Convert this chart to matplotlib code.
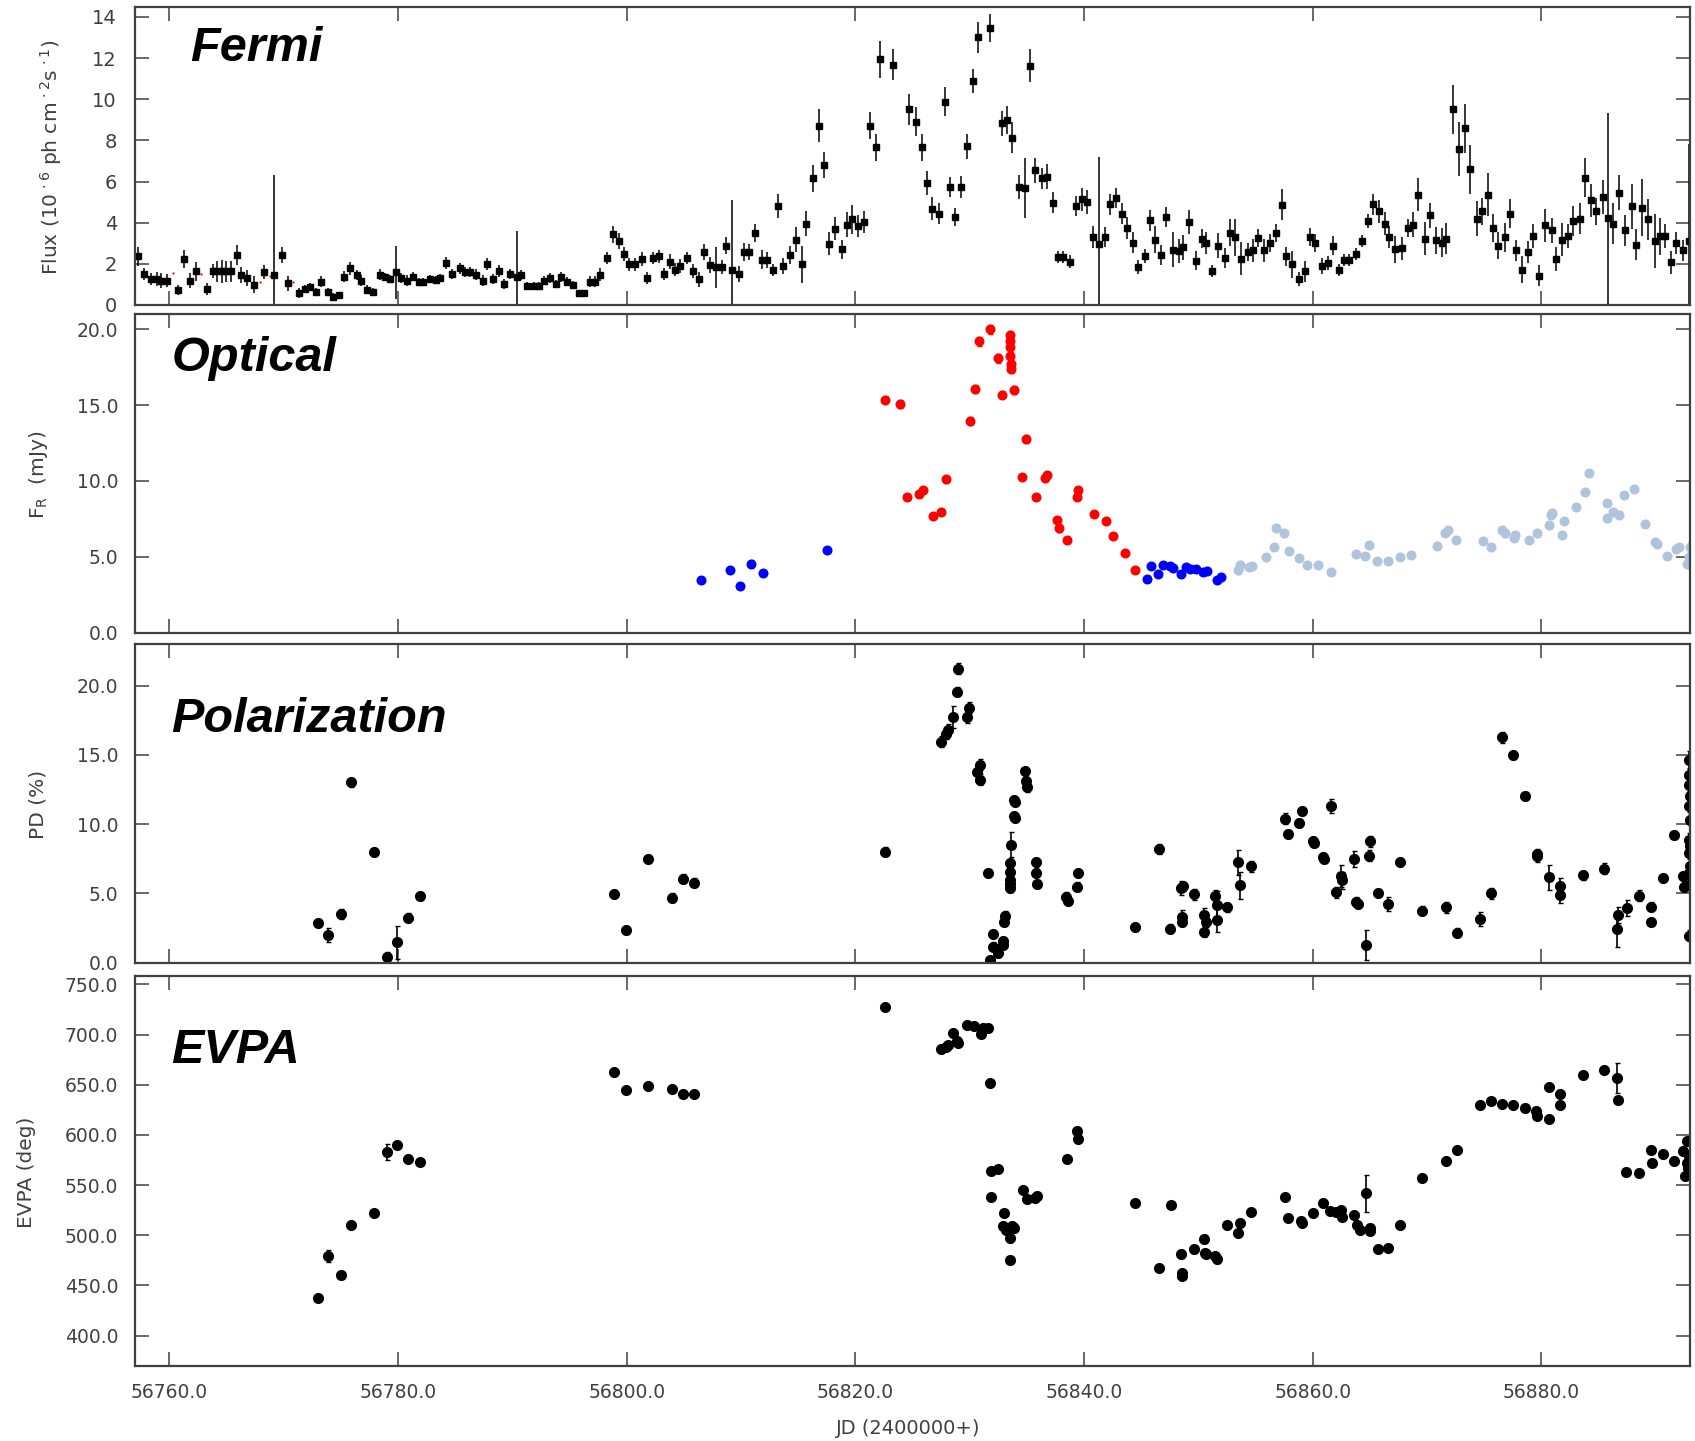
import matplotlib
matplotlib.use("Agg")
import matplotlib.pyplot as plt
from matplotlib.ticker import FormatStrFormatter, MultipleLocator

# ---- Fermi gamma-ray light curve ----
fermi_jd = [56757.3, 56757.8, 56758.4, 56758.9, 56759.3, 56759.8, 56760.8, 56761.3, 56761.8, 56762.3,
            56763.3, 56763.8, 56764.2, 56764.6, 56765.0, 56765.4, 56765.9, 56766.3, 56766.8, 56767.4,
            56768.3, 56769.2, 56769.9, 56770.4, 56771.3, 56771.9, 56772.3, 56772.8, 56773.3, 56773.9,
            56774.3, 56774.8, 56775.3, 56775.8, 56776.4, 56776.8, 56777.3, 56777.8, 56778.4, 56778.9,
            56779.3, 56779.8, 56780.3, 56780.8, 56781.3, 56781.8, 56782.2, 56782.8, 56783.3, 56783.7,
            56784.2, 56784.7, 56785.4, 56785.9, 56786.3, 56786.8, 56787.4, 56787.8, 56788.3, 56788.8,
            56789.3, 56789.8, 56790.4, 56790.8, 56791.3, 56791.9, 56792.3, 56792.8, 56793.3, 56793.8,
            56794.3, 56794.8, 56795.3, 56795.8, 56796.3, 56796.8, 56797.2,
            56797.7, 56798.3, 56798.8, 56799.3, 56799.8, 56800.2, 56800.7, 56801.3, 56801.8, 56802.3,
            56802.8, 56803.3, 56803.8, 56804.2, 56804.7, 56805.3, 56805.8, 56806.3, 56806.8, 56807.3,
            56807.8, 56808.3, 56808.7, 56809.2, 56809.8, 56810.3, 56810.7, 56811.2, 56811.8, 56812.3,
            56812.8, 56813.2, 56813.7, 56814.3, 56814.8, 56815.3, 56815.7, 56816.3, 56816.8, 56817.3,
            56817.7, 56818.2, 56818.8, 56819.3, 56819.7, 56820.2, 56820.8, 56821.3, 56821.8, 56822.2,
            56823.3, 56824.7, 56825.3, 56825.8, 56826.3, 56826.7, 56827.3, 56827.8, 56828.3, 56828.7,
            56829.2, 56829.8, 56830.3, 56830.7, 56831.8, 56832.8, 56833.3, 56833.7, 56834.3, 56834.8,
            56835.3, 56835.7, 56836.3, 56836.8, 56837.3, 56837.7, 56838.2, 56838.8, 56839.3, 56839.8,
            56840.3, 56840.8, 56841.3, 56841.8, 56842.3, 56842.8, 56843.3, 56843.8, 56844.3, 56844.7,
            56845.3, 56845.8,
            56846.2, 56846.7, 56847.2, 56847.8, 56848.3, 56848.7, 56849.2, 56849.8, 56850.3, 56850.7,
            56851.2, 56851.7, 56852.3, 56852.8, 56853.2, 56853.7, 56854.3, 56854.8, 56855.2, 56855.7,
            56856.3, 56856.8, 56857.3, 56857.7, 56858.2, 56858.8, 56859.3, 56859.8, 56860.2, 56860.8,
            56861.3, 56861.8, 56862.3, 56862.7, 56863.2, 56863.8, 56864.3, 56864.8, 56865.3, 56865.8,
            56866.3, 56866.7, 56867.2, 56867.8, 56868.3, 56868.8, 56869.2, 56869.8, 56870.3, 56870.8,
            56871.3, 56871.7, 56872.3, 56872.8, 56873.3, 56873.8, 56874.4, 56874.8, 56875.3, 56875.8,
            56876.2, 56876.8, 56877.3, 56877.8, 56878.3, 56878.8, 56879.3, 56879.8, 56880.3, 56880.9,
            56881.3, 56881.8, 56882.3, 56882.8, 56883.4, 56883.8, 56884.3, 56884.8, 56885.4, 56885.8,
            56886.3, 56886.8, 56887.3, 56887.9, 56888.3, 56888.8, 56889.3, 56889.9, 56890.4, 56890.8,
            56891.3, 56891.8, 56892.4, 56892.9]
fermi_flux = [2.37, 1.51, 1.27, 1.27, 1.19, 1.19, 0.73, 2.24, 1.19, 1.64,
              0.78, 1.64, 1.64, 1.64, 1.64, 1.64, 2.43, 1.46, 1.31, 0.99,
              1.59, 1.46, 2.43, 1.05, 0.58, 0.78, 0.86, 0.65, 1.14, 0.65,
              0.41, 0.50, 1.38, 1.78, 1.46, 1.19, 0.75, 0.65, 1.48, 1.35,
              1.27, 1.59, 1.31, 1.19, 1.38, 1.10, 1.10, 1.27, 1.22, 1.31,
              2.04, 1.51, 1.78, 1.59, 1.62, 1.48, 1.19, 2.00, 1.27, 1.64,
              1.02, 1.51, 1.38, 1.46, 0.91, 0.94, 0.91, 1.19, 1.31, 1.02,
              1.35, 1.14, 0.99, 0.58, 0.58, 1.14, 1.14,
              1.48, 2.29, 3.43, 3.11, 2.49, 1.97, 1.97, 2.24, 1.30, 2.29,
              2.36, 1.51, 2.11, 1.72, 1.89, 2.29, 1.64, 1.24, 2.57, 1.95,
              1.84, 1.84, 2.89, 1.71, 1.51, 2.57, 2.57, 3.50, 2.20, 2.20,
              1.71, 4.81, 1.89, 2.44, 3.17, 1.97, 3.95, 6.15, 8.72, 6.80,
              2.98, 3.71, 2.70, 3.90, 4.16, 3.84, 4.03, 8.72, 7.66, 11.95,
              11.67, 9.51, 8.91, 7.66, 5.93, 4.68, 4.44, 9.89, 5.74, 4.28,
              5.74, 7.72, 10.89, 13.01, 13.46, 8.83, 8.99, 8.13, 5.74, 5.69,
              11.63, 6.55, 6.15, 6.23, 4.98, 2.33, 2.33, 2.11, 4.81, 5.14,
              5.01, 3.30, 2.98, 3.30, 4.89, 5.20, 4.44, 3.74, 3.03, 1.84,
              2.37, 4.11,
              3.17, 2.44, 4.28, 2.68, 2.62, 2.81, 4.03, 2.16, 3.22, 3.02,
              1.64, 2.89, 2.29, 3.51, 3.30, 2.24, 2.57, 2.65, 3.25, 2.65,
              3.02, 3.51, 4.88, 2.37, 1.97, 1.27, 1.64, 3.30, 3.02, 1.89,
              2.03, 2.89, 1.71, 2.20, 2.20, 2.49, 3.11, 4.08, 4.89, 4.55,
              3.95, 3.30, 2.70, 2.76, 3.74, 3.90, 5.37, 3.22, 4.36, 3.14,
              3.02, 3.22, 9.51, 7.58, 8.59, 6.59, 4.20, 4.55, 5.37, 3.74,
              2.89, 3.30, 4.44, 2.65, 1.71, 2.57, 3.35, 1.43, 3.87, 3.63,
              2.24, 3.17, 3.35, 4.08, 4.20, 6.18, 5.09, 4.55, 5.25, 4.23,
              3.95, 5.46, 3.63, 4.80, 2.94, 4.73, 4.16, 3.11, 3.35, 3.35,
              2.08, 3.02, 2.65, 3.11]
fermi_err = [0.45, 0.3, 0.3, 0.35, 0.35, 0.3, 0.25, 0.45, 0.35, 0.45,
             0.3, 0.35, 0.5, 0.55, 0.5, 0.5, 0.5, 0.4, 0.4, 0.4,
             0.35, 4.88, 0.4, 0.35, 0.25, 0.2, 0.2, 0.2, 0.25, 0.2,
             0.15, 0.15, 0.25, 0.3, 0.25, 0.25, 0.2, 0.2, 0.25, 0.2,
             0.2, 1.3, 0.25, 0.25, 0.2, 0.2, 0.2, 0.2, 0.2, 0.2,
             0.3, 0.25, 0.25, 0.25, 0.25, 0.25, 0.25, 0.3, 0.25, 0.3,
             0.25, 0.25, 2.2, 0.25, 0.2, 0.2, 0.2, 0.2, 0.25, 0.2,
             0.25, 0.2, 0.2, 0.15, 0.15, 0.25, 0.25,
             0.3, 0.3, 0.4, 0.4, 0.35, 0.3, 0.3, 0.35, 0.3, 0.3,
             0.3, 0.3, 0.35, 0.3, 0.35, 0.3, 0.35, 0.35, 0.4, 0.4,
             1.0, 0.35, 0.4, 3.4, 0.4, 0.45, 0.4, 0.45, 0.45, 0.4,
             0.3, 0.6, 0.4, 0.45, 0.6, 0.9, 0.6, 0.65, 0.8, 0.65,
             0.55, 0.55, 0.45, 0.6, 0.7, 0.55, 0.55, 0.65, 0.65, 0.9,
             0.75, 0.75, 0.7, 0.65, 0.6, 0.55, 0.5, 0.7, 0.5, 0.45,
             0.55, 0.6, 0.6, 0.75, 0.7, 0.6, 0.7, 0.75, 0.6, 1.45,
             0.8, 0.6, 0.5, 0.6, 0.5, 0.3, 0.3, 0.3, 0.5, 0.55,
             0.6, 0.55, 4.2, 0.5, 0.5, 0.5, 0.5, 0.55, 0.5, 0.35,
             0.35, 0.5,
             0.65, 0.5, 0.5, 0.85, 0.6, 0.6, 0.6, 0.45, 0.45, 0.55,
             0.3, 0.6, 0.5, 0.65, 0.9, 0.8, 0.45, 0.55, 0.45, 0.55,
             0.45, 0.45, 0.75, 0.45, 0.65, 0.35, 0.5, 0.45, 0.45, 0.4,
             0.35, 0.45, 0.3, 0.3, 0.3, 0.3, 0.3, 0.35, 0.5, 0.55,
             0.55, 0.55, 0.65, 0.55, 0.45, 0.6, 0.8, 0.8, 0.6, 0.65,
             0.7, 0.75, 1.2, 1.3, 1.2, 1.2, 0.85, 0.65, 1.05, 0.7,
             0.65, 0.7, 0.7, 0.5, 0.65, 0.55, 0.6, 0.5, 0.8, 0.6,
             0.6, 0.8, 0.6, 0.75, 0.75, 0.95, 0.8, 0.65, 0.85, 5.1,
             1.0, 0.85, 0.75, 1.1, 0.75, 1.4, 1.0, 1.3, 0.9, 0.6,
             0.55, 0.55, 0.5, 4.7]
# small red marks (low-significance bins)
fermi_ul_jd = [56760.3, 56762.8, 56767.9, 56768.8, 56770.8]
fermi_ul_flux = [1.54, 1.51, 1.14, 1.43, 1.14]

# ---- Optical R-band flux ----
opt_red_jd = [56822.6, 56823.9, 56824.5, 56825.6, 56825.9, 56826.8, 56827.5, 56827.9, 56830.0, 56830.5,
              56830.8, 56831.8, 56832.5, 56832.8, 56833.5, 56833.5, 56833.5, 56833.5, 56833.6, 56833.6,
              56833.9, 56834.6, 56834.9, 56835.8, 56836.6, 56836.8, 56837.6, 56837.8, 56838.5, 56839.4,
              56839.5, 56840.9, 56841.9, 56842.5, 56843.6, 56844.5]
opt_red_flux = [15.36, 15.08, 8.95, 9.12, 9.38, 7.67, 7.93, 10.09, 13.93, 16.07,
                19.19, 20.00, 18.09, 15.69, 19.6, 19.2, 18.8, 18.2, 17.7, 17.4,
                15.98, 10.26, 12.77, 8.95, 10.20, 10.37, 7.41, 6.86, 6.13, 8.95,
                9.38, 7.80, 7.34, 6.35, 5.27, 4.11]
opt_red_err = [0.25, 0.25, 0.2, 0.2, 0.2, 0.2, 0.2, 0.25, 0.25, 0.25,
               0.3, 0.3, 0.3, 0.25, 0.3, 0.3, 0.3, 0.3, 0.3, 0.3,
               0.25, 0.2, 0.25, 0.2, 0.2, 0.2, 0.2, 0.2, 0.2, 0.2,
               0.2, 0.2, 0.2, 0.2, 0.2, 0.2]
opt_blue_jd = [56806.5, 56809.0, 56809.9, 56810.9, 56811.9, 56817.5, 56845.5, 56845.9, 56846.5, 56846.9,
               56847.5, 56847.8, 56848.5, 56848.9, 56849.3, 56849.8, 56850.4, 56850.8, 56851.6, 56852.0]
opt_blue_flux = [3.49, 4.15, 3.05, 4.55, 3.93, 5.47, 3.56, 4.40, 3.89, 4.44,
                 4.40, 4.26, 3.89, 4.33, 4.22, 4.18, 4.00, 4.07, 3.49, 3.67]
opt_blue_err = [0.2, 0.2, 0.2, 0.2, 0.2, 0.2, 0.2, 0.2, 0.2, 0.2,
                0.2, 0.2, 0.2, 0.2, 0.2, 0.2, 0.2, 0.2, 0.2, 0.2]
opt_light_jd = [56853.5, 56853.6, 56854.4, 56854.7, 56855.9, 56856.6, 56856.8, 56857.5, 56857.9, 56858.8,
                56859.5, 56860.5, 56861.6, 56863.8, 56864.6, 56864.9, 56865.6, 56866.6, 56867.6, 56868.6,
                56870.9, 56871.6, 56871.8, 56872.5, 56874.9, 56875.6, 56876.6, 56876.8, 56877.6, 56877.7,
                56878.9, 56879.6, 56880.7, 56880.9, 56880.8, 56881.8, 56882.0, 56883.0, 56883.8, 56884.2,
                56885.7, 56885.7, 56886.3, 56886.8, 56887.2, 56888.1, 56889.1, 56889.9, 56890.1, 56891.0,
                56891.8, 56892.0, 56892.7, 56892.9, 56893.0]
opt_light_flux = [4.11, 4.44, 4.33, 4.40, 4.99, 5.65, 6.90, 6.53, 5.38, 4.92,
                  4.48, 4.48, 4.00, 5.16, 5.05, 5.76, 4.73, 4.73, 4.95, 5.10,
                  5.71, 6.59, 6.79, 6.09, 6.02, 5.65, 6.75, 6.53, 6.26, 6.42,
                  6.09, 6.53, 7.12, 7.85, 7.74, 6.42, 7.36, 8.29, 9.27, 10.53,
                  8.55, 7.52, 7.96, 7.78, 9.05, 9.45, 7.14, 5.98, 5.87, 5.05,
                  5.54, 5.65, 4.55, 4.99, 5.65]
opt_light_err = [0.25, 0.25, 0.2, 0.2, 0.2, 0.2, 0.2, 0.2, 0.2, 0.2,
                 0.2, 0.2, 0.2, 0.2, 0.2, 0.2, 0.2, 0.2, 0.2, 0.2,
                 0.2, 0.2, 0.2, 0.2, 0.2, 0.2, 0.2, 0.2, 0.2, 0.2,
                 0.2, 0.2, 0.2, 0.2, 0.2, 0.2, 0.2, 0.2, 0.2, 0.2,
                 0.2, 0.2, 0.2, 0.2, 0.2, 0.2, 0.2, 0.2, 0.2, 0.2,
                 0.2, 0.2, 0.3, 0.3, 0.3]

# ---- Polarization degree ----
pol_jd = [56773.0, 56773.9, 56775.0, 56775.9, 56777.9, 56779.0, 56779.95, 56780.9, 56781.9, 56798.9,
          56799.95, 56801.9, 56804.0, 56804.9, 56805.9, 56822.6, 56827.5, 56827.9, 56828.1, 56828.5,
          56828.9, 56829.0, 56829.8, 56829.9, 56830.6, 56830.9, 56830.9, 56831.6, 56831.8, 56832.0,
          56832.0, 56832.5, 56832.9, 56832.9, 56833.0, 56833.1, 56833.5, 56833.5, 56833.5, 56833.5,
          56833.5, 56833.6, 56833.9, 56833.9, 56834.0, 56834.0, 56834.8, 56834.9, 56835.0, 56835.8,
          56835.8, 56835.9, 56838.4, 56838.6, 56839.4, 56839.5, 56844.5, 56846.6, 56847.5, 56848.5,
          56848.6, 56848.7, 56848.6, 56849.6, 56850.5, 56850.7, 56850.5, 56851.5, 56851.6, 56851.6,
          56852.5, 56853.5, 56853.6, 56854.6, 56857.6, 56857.8, 56858.8, 56859.1, 56860.0, 56860.1,
          56860.9, 56861.0, 56861.6, 56862.0, 56862.5, 56862.6, 56863.8, 56864.0, 56863.6, 56864.7,
          56864.9, 56865.0, 56865.7, 56866.6, 56867.6, 56869.6, 56871.7, 56872.6, 56874.6, 56875.6,
          56876.6, 56877.5, 56878.6, 56879.6, 56879.6, 56880.7, 56881.6, 56881.6, 56883.6, 56885.5,
          56886.6, 56886.7, 56887.5, 56888.5, 56889.6, 56889.6, 56890.6, 56891.6, 56892.4, 56892.5,
          56892.9, 56892.9, 56892.9, 56893.0, 56892.9, 56893.0, 56892.9, 56893.0, 56892.9, 56893.0,
          56892.9, 56892.9, 56892.9]
pol_pd = [2.84, 1.98, 3.52, 13.01, 8.00, 0.43, 1.47, 3.25, 4.82, 4.96,
          2.36, 7.47, 4.70, 6.07, 5.78, 8.02, 15.95, 16.51, 16.82, 17.71,
          19.57, 21.23, 17.71, 18.39, 13.73, 14.29, 13.20, 6.46, 0.19, 2.07,
          1.16, 0.67, 1.28, 1.57, 2.92, 3.40, 5.37, 5.66, 5.98, 6.51,
          7.18, 8.51, 10.55, 11.76, 10.43, 11.59, 13.81, 13.13, 12.65, 7.23,
          6.46, 5.69, 4.77, 4.46, 5.49, 6.46, 2.55, 8.22, 2.46, 5.37,
          3.28, 5.50, 2.96, 4.94, 3.45, 2.96, 2.24, 4.82, 4.17, 3.08,
          3.98, 7.23, 5.57, 6.94, 10.39, 9.30, 10.07, 10.96, 8.75, 8.63,
          7.61, 7.49, 11.28, 5.08, 6.27, 5.93, 4.41, 4.22, 7.47, 1.28,
          7.73, 8.75, 5.01, 4.22, 7.25, 3.76, 3.98, 2.17, 3.13, 5.01,
          16.27, 15.01, 12.05, 7.83, 7.66, 6.17, 5.54, 4.89, 6.29, 6.77,
          2.41, 3.45, 3.93, 4.82, 4.05, 2.92, 6.10, 9.23, 6.22, 5.49,
          14.65, 13.57, 12.80, 12.00, 11.28, 10.31, 8.87, 8.39, 7.90, 6.94,
          6.46, 5.61, 1.95]
pol_pd_err = [0.3, 0.5, 0.35, 0.3, 0.3, 0.3, 1.2, 0.3, 0.3, 0.3,
              0.3, 0.3, 0.3, 0.3, 0.3, 0.3, 0.4, 0.4, 0.4, 0.8,
              0.35, 0.4, 0.4, 0.4, 0.4, 0.4, 0.4, 0.3, 0.3, 0.3,
              0.3, 0.3, 0.3, 0.3, 0.3, 0.3, 0.3, 0.3, 0.3, 0.3,
              0.3, 0.9, 0.3, 0.3, 0.3, 0.3, 0.3, 0.3, 0.3, 0.3,
              0.3, 0.3, 0.3, 0.3, 0.3, 0.3, 0.3, 0.35, 0.35, 0.5,
              0.5, 0.3, 0.3, 0.4, 0.5, 0.4, 0.4, 0.4, 1.0, 0.9,
              0.3, 0.9, 1.0, 0.4, 0.4, 0.3, 0.3, 0.3, 0.3, 0.3,
              0.3, 0.3, 0.5, 0.4, 0.8, 0.6, 0.3, 0.3, 0.6, 1.1,
              0.4, 0.4, 0.3, 0.5, 0.3, 0.3, 0.4, 0.3, 0.5, 0.4,
              0.4, 0.3, 0.3, 0.4, 0.4, 0.9, 0.6, 0.6, 0.3, 0.4,
              1.3, 0.6, 0.6, 0.4, 0.3, 0.3, 0.3, 0.3, 0.3, 0.3,
              0.6, 0.4, 0.4, 0.4, 0.4, 0.4, 0.5, 0.4, 0.4, 0.4,
              0.4, 0.4, 0.4]

# ---- Polarization angle ----
evpa_jd = [56773.0, 56773.9, 56775.0, 56775.9, 56777.9, 56779.0, 56779.95, 56780.9, 56781.9, 56798.9,
           56799.95, 56801.9, 56804.0, 56804.9, 56805.9, 56822.6, 56827.5, 56827.9, 56828.1, 56828.5,
           56828.9, 56829.0, 56829.8, 56830.4, 56831.0, 56831.2, 56831.6, 56831.8, 56831.9, 56832.5,
           56831.9, 56833.0, 56832.9, 56833.2, 56833.5, 56833.7, 56833.9, 56833.5, 56834.7, 56835.0,
           56835.7, 56835.9, 56838.5, 56839.4, 56839.5, 56844.5, 56846.6, 56847.6, 56848.5, 56848.6,
           56848.6, 56849.6, 56850.5, 56850.6, 56850.7, 56851.6, 56851.5, 56852.5, 56853.5, 56853.6,
           56854.6, 56857.6, 56857.8, 56859.0, 56859.1, 56860.0, 56860.9, 56861.5, 56862.0, 56862.5,
           56862.6, 56863.6, 56863.9, 56864.1, 56864.7, 56865.0, 56865.0, 56865.7, 56866.6, 56867.6,
           56869.6, 56871.7, 56872.6, 56874.6, 56875.6, 56876.6, 56877.5, 56878.6, 56879.5, 56879.6,
           56880.7, 56880.7, 56881.6, 56881.6, 56883.6, 56885.5, 56886.6, 56886.7, 56887.4, 56888.5,
           56889.6, 56889.7, 56890.6, 56891.6, 56892.4, 56892.6, 56892.7, 56892.7, 56892.8, 56892.9]
evpa_deg = [437.1, 479.3, 460.1, 510.2, 521.8, 582.6, 589.6, 576.0, 573.3, 662.3,
            644.7, 648.7, 645.7, 640.7, 640.7, 727.4, 685.9, 687.9, 689.2, 701.2,
            693.5, 691.9, 709.1, 708.5, 700.2, 706.8, 706.1, 652.0, 564.0, 565.6,
            538.4, 522.4, 509.1, 505.1, 497.5, 509.1, 507.5, 475.3, 544.7, 535.7,
            537.4, 539.0, 575.6, 603.8, 596.2, 532.4, 467.6, 529.7, 481.6, 462.6,
            459.3, 486.5, 496.5, 482.6, 480.9, 476.6, 479.2, 509.8, 502.5, 512.5,
            523.1, 538.1, 517.4, 514.1, 512.5, 521.8, 532.4, 524.1, 523.4, 525.1,
            518.1, 520.1, 510.1, 505.2, 541.7, 507.5, 504.2, 486.5, 487.5, 510.5,
            556.6, 573.9, 584.9, 629.4, 633.4, 630.4, 629.7, 626.4, 623.8, 618.8,
            615.4, 647.3, 640.4, 629.4, 659.6, 665.0, 656.3, 634.7, 563.3, 561.6,
            584.9, 571.6, 580.6, 573.9, 583.9, 559.0, 593.9, 572.3, 567.3, 579.0]
evpa_err = [3, 6, 3, 3, 3, 8, 3, 3, 3, 3,
            3, 3, 3, 3, 3, 3, 3, 3, 3, 3,
            3, 3, 3, 3, 3, 3, 3, 3, 3, 3,
            3, 3, 4, 4, 4, 3, 4, 3, 3, 3,
            3, 3, 3, 3, 3, 3, 3, 3, 4, 3,
            3, 3, 4, 3, 3, 4, 3, 3, 3, 3,
            3, 3, 3, 3, 3, 3, 3, 3, 3, 3,
            3, 3, 3, 3, 18, 3, 3, 3, 3, 3,
            3, 3, 3, 3, 3, 3, 3, 3, 3, 3,
            3, 3, 3, 3, 3, 3, 15, 3, 3, 3,
            3, 3, 3, 3, 3, 3, 3, 3, 3, 3]

jd_ticks = [56760, 56780, 56800, 56820, 56840, 56860, 56880]
panel_titles = ["Fermi", "Optical", "Polarization", "EVPA"]

axis_col = "#404040"
W, H = 1695, 1441

fig = plt.figure(figsize=(W / 100, H / 100), dpi=100)

# panel boxes in pixels: (top, bottom)
boxes = [(6.7, 305), (314, 633), (644, 963.3), (975.7, 1366)]
left_px, right_px = 135, 1690
axes = []
for top, bot in boxes:
    ax = fig.add_axes([left_px / W, 1 - bot / H, (right_px - left_px) / W, (bot - top) / H])
    axes.append(ax)

for i, ax in enumerate(axes):
    for s in ax.spines.values():
        s.set_color(axis_col)
        s.set_linewidth(1.6)
    ax.tick_params(direction="in", length=10, width=1.1, colors=axis_col,
                   top=True, right=True, labelsize=13.5, pad=12)
    ax.set_xlim(56757.0, 56893.0)
    ax.set_xticks(jd_ticks)
    ax.xaxis.set_major_formatter(FormatStrFormatter("%.1f"))
    if i < 3:
        ax.tick_params(labelbottom=False)

ax1, ax2, ax3, ax4 = axes

# Fermi
ax1.errorbar(fermi_jd, fermi_flux, yerr=fermi_err, fmt="s", ms=4.6, color="black",
             ecolor="black", elinewidth=1.1, capsize=0)
ax1.plot(fermi_ul_jd, fermi_ul_flux, "s", ms=1.5, color="red", mec="none")
ax1.set_ylim(0, 14.5)
ax1.yaxis.set_major_locator(MultipleLocator(2))
ax1.yaxis.set_major_formatter(FormatStrFormatter("%d"))
ax1.tick_params(axis="y", pad=13, labelsize=14)

# Optical
for xs, ys, es, c in [(opt_red_jd, opt_red_flux, opt_red_err, "#ff0000"),
                      (opt_blue_jd, opt_blue_flux, opt_blue_err, "#0000ff"),
                      (opt_light_jd, opt_light_flux, opt_light_err, "#b0c4de")]:
    ax2.errorbar(xs, ys, yerr=es, fmt="o", ms=6.2, color=c, ecolor=c,
                 elinewidth=1.3, capsize=1.8)
ax2.set_ylim(-0.03, 21.0)
ax2.yaxis.set_major_locator(MultipleLocator(5))
ax2.yaxis.set_major_formatter(FormatStrFormatter("%.1f"))

# Polarization degree
ax3.errorbar(pol_jd, pol_pd, yerr=pol_pd_err, fmt="o", ms=7.0, color="black",
             ecolor="black", elinewidth=1.2, capsize=1.8)
ax3.set_ylim(-0.05, 23.0)
ax3.yaxis.set_major_locator(MultipleLocator(5))
ax3.yaxis.set_major_formatter(FormatStrFormatter("%.1f"))

# EVPA
ax4.errorbar(evpa_jd, evpa_deg, yerr=evpa_err, fmt="o", ms=7.0, color="black",
             ecolor="black", elinewidth=1.2, capsize=1.8)
ax4.set_ylim(369.8, 758.6)
ax4.set_yticks([400, 450, 500, 550, 600, 650, 700, 750])
ax4.yaxis.set_major_formatter(FormatStrFormatter("%.1f"))

# big italic panel titles (x px, baseline px)
title_pos = [(190, 61), (172, 370.7), (171, 731.7), (171, 1062.7)]
for name, (tx, ty) in zip(panel_titles, title_pos):
    fig.text(tx / W, 1 - ty / H, name, fontsize=35, fontweight="bold", fontstyle="italic",
             family=["Liberation Sans", "DejaVu Sans"], color="black", ha="left", va="baseline")

# axis labels
ylab = [("Flux (10$^{\\,\\cdot6}$ ph cm$^{\\,\\cdot2}$s$^{\\,\\cdot1}$)", 51, 157),
        ("F$_\\mathrm{R}$  (mJy)", 38, 475),
        ("PD (%)", 38, 804),
        ("EVPA (deg)", 26, 1172)]
for txt, lx, ly in ylab:
    fig.text(lx / W, 1 - ly / H, txt, rotation=90, fontsize=14.5, color=axis_col,
             ha="center", va="center")
fig.text(908 / W, 1 - 1429 / H, "JD (2400000+)", fontsize=14, color=axis_col,
         ha="center", va="center")

fig.savefig("out.png", dpi=100)
